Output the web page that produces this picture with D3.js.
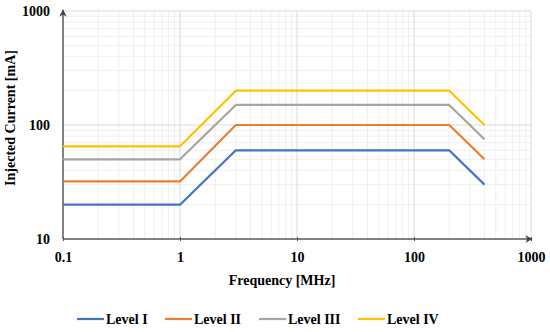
<!DOCTYPE html>
<html>
<head>
<meta charset="utf-8">
<script src="https://cdn.jsdelivr.net/npm/d3@7"></script>
<style>
  body { margin: 0; background: #fff; }
  text { font-family: "Liberation Serif", "Times New Roman", serif; font-weight: bold; fill: #000; }
</style>
</head>
<body>
<div id="chart"></div>
<script>
// data
var freq = [0.1, 1, 3, 200, 400];
var levelI = [20, 20, 60, 60, 30];
var levelII = [32, 32, 100, 100, 50];
var levelIII = [50, 50, 150, 150, 75];
var levelIV = [65, 65, 200, 200, 100];
var seriesNames = ["Level I", "Level II", "Level III", "Level IV"];
var seriesColors = ["#4472C4", "#ED7D31", "#A5A5A5", "#FFC000"];
var xTicks = [0.1, 1, 10, 100, 1000];
var yTicks = [10, 100, 1000];

var svgWidth = 550, svgHeight = 332;
var margin = { top: 11, right: 19, bottom: 93, left: 63 };
var width = svgWidth - margin.left - margin.right;
var height = svgHeight - margin.top - margin.bottom;

var svg = d3.select("#chart").append("svg")
  .attr("width", svgWidth)
  .attr("height", svgHeight);

var chartGroup = svg.append("g")
  .attr("transform", `translate(${margin.left}, ${margin.top})`);

var xScale = d3.scaleLog().domain([0.1, 1000]).range([0, width]);
var yScale = d3.scaleLog().domain([10, 1000]).range([height, 0]);

// minor grid (2..9 in each decade)
var minorX = [], minorY = [];
xTicks.slice(0, -1).forEach(function (d) { for (var k = 2; k < 10; k++) minorX.push(d * k); });
yTicks.slice(0, -1).forEach(function (d) { for (var k = 2; k < 10; k++) minorY.push(d * k); });

chartGroup.append("g").selectAll("line").data(minorX).enter().append("line")
  .attr("x1", d => xScale(d)).attr("x2", d => xScale(d))
  .attr("y1", 0).attr("y2", height)
  .attr("stroke", "#efefef").attr("stroke-width", 1);
chartGroup.append("g").selectAll("line").data(minorY).enter().append("line")
  .attr("y1", d => yScale(d)).attr("y2", d => yScale(d))
  .attr("x1", 0).attr("x2", width)
  .attr("stroke", "#efefef").attr("stroke-width", 1);

// major grid
chartGroup.append("g").selectAll("line").data(xTicks.slice(1)).enter().append("line")
  .attr("x1", d => xScale(d)).attr("x2", d => xScale(d))
  .attr("y1", 0).attr("y2", height)
  .attr("stroke", "#d9d9d9").attr("stroke-width", 1);
chartGroup.append("g").selectAll("line").data(yTicks.slice(1)).enter().append("line")
  .attr("y1", d => yScale(d)).attr("y2", d => yScale(d))
  .attr("x1", 0).attr("x2", width)
  .attr("stroke", "#d9d9d9").attr("stroke-width", 1);

// axes
var bottomAxis = d3.axisBottom(xScale).tickValues(xTicks).tickFormat(d3.format("~g")).tickSize(4).tickPadding(9);
var leftAxis = d3.axisLeft(yScale).tickValues(yTicks).tickFormat(d3.format("d")).tickSize(0).tickPadding(13);

var gx = chartGroup.append("g")
  .attr("transform", `translate(0, ${height})`)
  .call(bottomAxis);
var gy = chartGroup.append("g").call(leftAxis);

[gx, gy].forEach(function (g) {
  g.select(".domain").remove();
  g.selectAll("line").attr("stroke", "#595959");
  g.selectAll("text").style("font-size", "14px").attr("fill", "#000");
});
gx.selectAll(".tick line").attr("transform", "translate(0,-2)");

svg.append("defs").append("marker")
  .attr("id", "arrow").attr("viewBox", "0 0 10 10")
  .attr("refX", 9).attr("refY", 5)
  .attr("markerWidth", 5).attr("markerHeight", 5)
  .attr("orient", "auto")
  .append("path").attr("d", "M0,0 L10,5 L0,10 L3,5 z").attr("fill", "#404040");

chartGroup.append("line")
  .attr("x1", 0).attr("x2", width + 1).attr("y1", height).attr("y2", height)
  .attr("stroke", "#595959").attr("stroke-width", 1.5).attr("marker-end", "url(#arrow)");
chartGroup.append("line")
  .attr("x1", 0).attr("x2", 0).attr("y1", height).attr("y2", -1)
  .attr("stroke", "#595959").attr("stroke-width", 1.5).attr("marker-end", "url(#arrow)");

// lines
var allLevels = [levelI, levelII, levelIII, levelIV];
var line = d3.line()
  .x((d, i) => xScale(freq[i]))
  .y(d => yScale(d));

chartGroup.append("g").selectAll("path").data(allLevels).enter().append("path")
  .attr("d", d => line(d))
  .attr("fill", "none")
  .attr("stroke", (d, i) => seriesColors[i])
  .attr("stroke-width", 2.2)
  .attr("stroke-linejoin", "round");

// axis titles
chartGroup.append("text")
  .attr("transform", "rotate(-90)")
  .attr("x", -height / 2 + 7)
  .attr("y", -margin.left + 15)
  .attr("text-anchor", "middle")
  .style("font-size", "14px")
  .text("Injected Current [mA]");
chartGroup.append("text")
  .attr("x", width / 2 - 15)
  .attr("y", height + 46)
  .attr("text-anchor", "middle")
  .style("font-size", "14px")
  .text("Frequency [MHz]");

// legend
var legendX = [77, 165, 259, 358];
var legend = svg.append("g").selectAll("g").data(seriesNames).enter().append("g")
  .attr("transform", (d, i) => `translate(${legendX[i]}, 319)`);
legend.append("line")
  .attr("x1", 0).attr("x2", 27).attr("y1", 0).attr("y2", 0)
  .attr("stroke", (d, i) => seriesColors[i]).attr("stroke-width", 2.2);
legend.append("text")
  .attr("x", 29).attr("y", 5)
  .style("font-size", "14px")
  .text(d => d);
</script>
</body>
</html>
